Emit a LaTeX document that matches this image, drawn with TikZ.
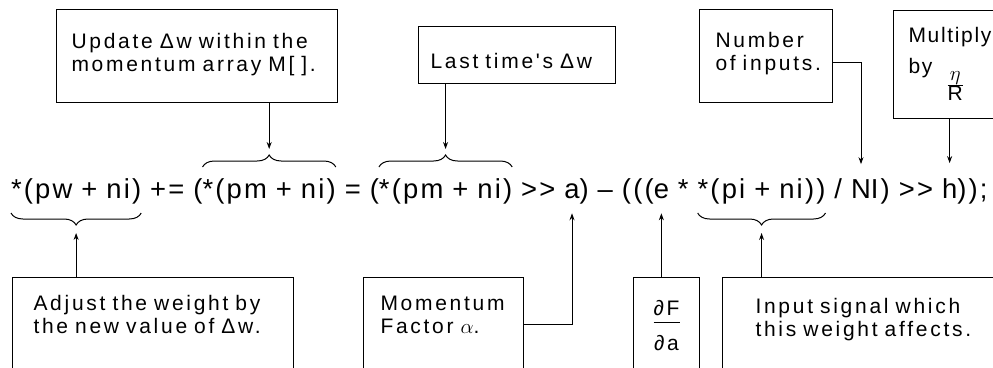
\documentclass[tikz,border=0pt]{standalone}
\usepackage{fontspec}
\newfontfamily\capfont{Liberation Sans}[LetterSpace=13]
\newfontfamily\codefont{Liberation Sans}[LetterSpace=8]
\newcommand\gap{\hspace*{9pt}}
\usepackage{tikz}
\usetikzlibrary{calc,arrows.meta,decorations.pathreplacing}

\begin{document}
\begin{tikzpicture}[x=1pt, y=-1pt, line width=1pt, >={Stealth[length=7pt,width=5pt]},
    fml/.style={anchor=base west, inner sep=0pt, outer sep=0pt, font=\codefont\fontsize{27.4}{30}\selectfont},
    note/.style={draw, anchor=north west, inner ysep=0pt, align=left, font=\capfont\fontsize{21}{23}\selectfont},
    brc/.style={decorate, decoration={brace, amplitude=12pt}}]
    \useasboundingbox (0,0) rectangle (993,367);
    \clip (0,0) rectangle (993,367);

    % The statement, cut in pieces so the notes can point at them
    \node[fml] (fA) at (11,198) {*(pw\gap+\gap ni)};
    \node[fml] (fB) at (fA.base east) {\gap+=\gap(};
    \node[fml] (fC) at (fB.base east) {*(pm\gap+\gap ni)};
    \node[fml] (fD) at (fC.base east) {\gap=\gap(};
    \node[fml] (fE) at (fD.base east) {*(pm\gap+\gap ni)};
    \node[fml] (fF) at (fE.base east) {\gap>>\gap\null};
    \node[fml] (fG) at (fF.base east) {a};
    \node[fml] (fH) at (fG.base east) {)\gap–\gap(((};
    \node[fml] (fI) at (fH.base east) {e};
    \node[fml] (fJ) at (fI.base east) {\gap*\gap\null};
    \node[fml] (fK) at (fJ.base east) {*(pi\gap+\gap ni))};
    \node[fml] (fL) at (fK.base east) {\gap/\gap\null};
    \node[fml] (fM) at (fL.base east) {N};
    \node[fml] (fN) at (fM.base east) {I)\gap>>\gap\null};
    \node[fml] (fO) at (fN.base east) {h};
    \node[fml] (fP) at (fO.base east) {));};

    % Braces above and below
    \coordinate (up) at (0,167);
    \coordinate (dn) at (0,213);
    \draw[brc] (fC.west |- up) -- (fC.east |- up);
    \draw[brc] (fE.west |- up) -- (fE.east |- up);
    \draw[brc] (fA.east |- dn) -- (fA.west |- dn);
    \draw[brc] (fK.east |- dn) -- (fK.west |- dn);
    \coordinate (tC) at ($(fC.west |- up)!.5!(fC.east |- up)+(0,-12)$);
    \coordinate (tE) at ($(fE.west |- up)!.5!(fE.east |- up)+(0,-12)$);
    \coordinate (tA) at ($(fA.west |- dn)!.5!(fA.east |- dn)+(0,12)$);
    \coordinate (tK) at ($(fK.west |- dn)!.5!(fK.east |- dn)+(0,12)$);

    % Notes on top
    \node[note, inner xsep=15pt, text width=251pt, text height=39pt, text depth=54pt] (upd) at (56,9)
        {Update Δw within the\\momentum array M[~].};
    \node[note, inner xsep=12pt, text width=173pt, text height=42pt, text depth=15pt] (last) at (418,26)
        {Last time's Δw};
    \node[note, inner xsep=16pt, text width=101pt, text height=38pt, text depth=55pt] (num) at (699,9)
        {Number\\of inputs.};
    \node[note, inner xsep=15pt, text width=100pt, text height=32pt, text depth=76pt] (mul) at (893,10)
        {\addfontfeature{LetterSpace=8}Multiply\\\smash{\raisebox{-8pt}{by~~\raisebox{-17pt}{$\frac{\textstyle\eta}{\hbox{R}}$}}}};

    % Notes below
    \node[note, inner xsep=21pt, text width=239pt, text height=33pt, text depth=80pt] (adj) at (12,277)
        {Adjust the weight by\\the new value of Δw.};
    \node[note, inner xsep=17pt, text width=126pt, text height=33pt, text depth=80pt] (mom) at (363,277)
        {Momentum\\Factor $\alpha$.};
    \node[note, inner xsep=0pt, text width=66pt, text height=38pt, text depth=80pt, align=center] (dfa) at (633,277)
        {∂F\\[-16pt]\rule{26pt}{1pt}\\[5pt]∂a};
    \node[note, inner xsep=33pt, text width=260pt, text height=36pt, text depth=80pt] (inp) at (722,277)
        {Input signal which\\this weight affects.};

    % Connectors
    \draw[->] (upd.south -| tC) -- ($(tC)+(0,-6)$);
    \draw[->] (last.south -| tE) -- ($(tE)+(0,-6)$);
    \draw[->] ($(num.north east)+(0,53)$) -| ($(fM.north)+(0,-15)$);
    \draw[->] (mul.south -| fO.north) -- ($(fO.north)+(0,-15)$);
    \draw[->] (adj.north -| tA) -- ($(tA)+(0,8)$);
    \draw[->] ($(mom.north east)+(0,47)$) -| ($(fG.south)+(0,15)$);
    \draw[->] (fI.south |- dfa.north) -- ($(fI.south)+(0,15)$);
    \draw[->] (inp.north -| tK) -- ($(tK)+(0,8)$);
\end{tikzpicture}
\end{document}
